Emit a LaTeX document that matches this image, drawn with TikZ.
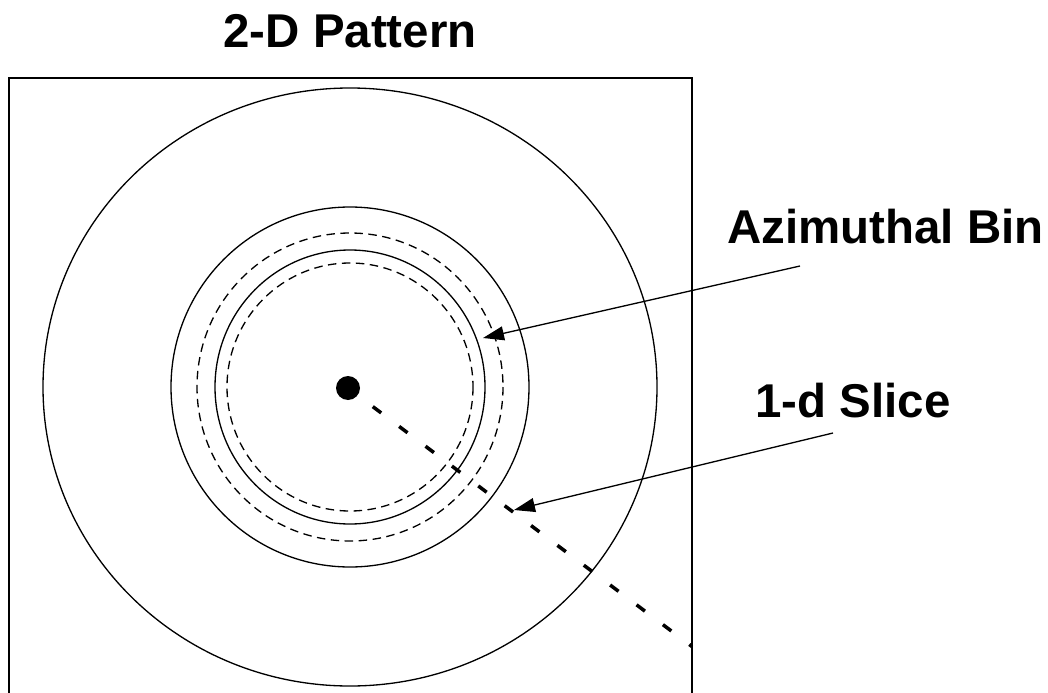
\documentclass[tikz,border=0pt]{standalone}
\usepackage{fontspec}
\setmainfont{Liberation Sans}
\usetikzlibrary{arrows.meta,positioning}
\tikzset{
    ring/.style={draw=black,line width=0.75pt},
    binring/.style={ring,dash pattern=on 0.17cm off 0.11cm},
    slice/.style={draw=black,line width=2pt,dash pattern=on 0.21cm off 0.45cm,dash phase=0.04cm},
    arrow/.style={-{Triangle[length=0.42cm,width=0.28cm]},line width=0.75pt,draw=black},
    lbl/.style={font=\fontsize{27}{32}\selectfont\bfseries,inner sep=0pt},
    dot/.style={circle,fill=black,minimum size=0.48cm,inner sep=0pt}
}

\begin{document}
\begin{tikzpicture}[x=0.02cm,y=-0.02cm]
\useasboundingbox (0,0) rectangle (1048,693);

% frame, runs off the bottom
\draw[line width=1.1pt] (9,720) -- (9,78) -- (692,78) -- (692,720);

\node[lbl,anchor=base] (title) at (350,47) {2-D Pattern};

% rings round the beam centre
\draw[ring] (350,387) ellipse [x radius=307,y radius=299];
\draw[ring] (350,387) ellipse [x radius=179,y radius=180];
\draw[binring] (350,387) ellipse [x radius=153,y radius=154];
\draw[ring] (350,387) ellipse [x radius=135,y radius=137];
\draw[binring] (350,387) ellipse [x radius=123,y radius=124];

\node[dot] (centre) at (348,388) {};
\coordinate (sliceend) at (692,646.5);
\draw[slice] (centre.center) -- (sliceend);

% labels and pointers
\node[lbl,anchor=base west] (binlabel) at (727,243) {Azimuthal Bin};
\node[lbl,anchor=base west] (slicelabel) at (755,417) {1-d Slice};

\coordinate (bintail) at (800,266);
\coordinate (bintip) at (483,338);
\coordinate (slicetail) at (833,433);
\coordinate (slicetip) at (514,510);

\draw[arrow] (bintail) -- (bintip);
\draw[arrow] (slicetail) -- (slicetip);

\end{tikzpicture}
\end{document}
